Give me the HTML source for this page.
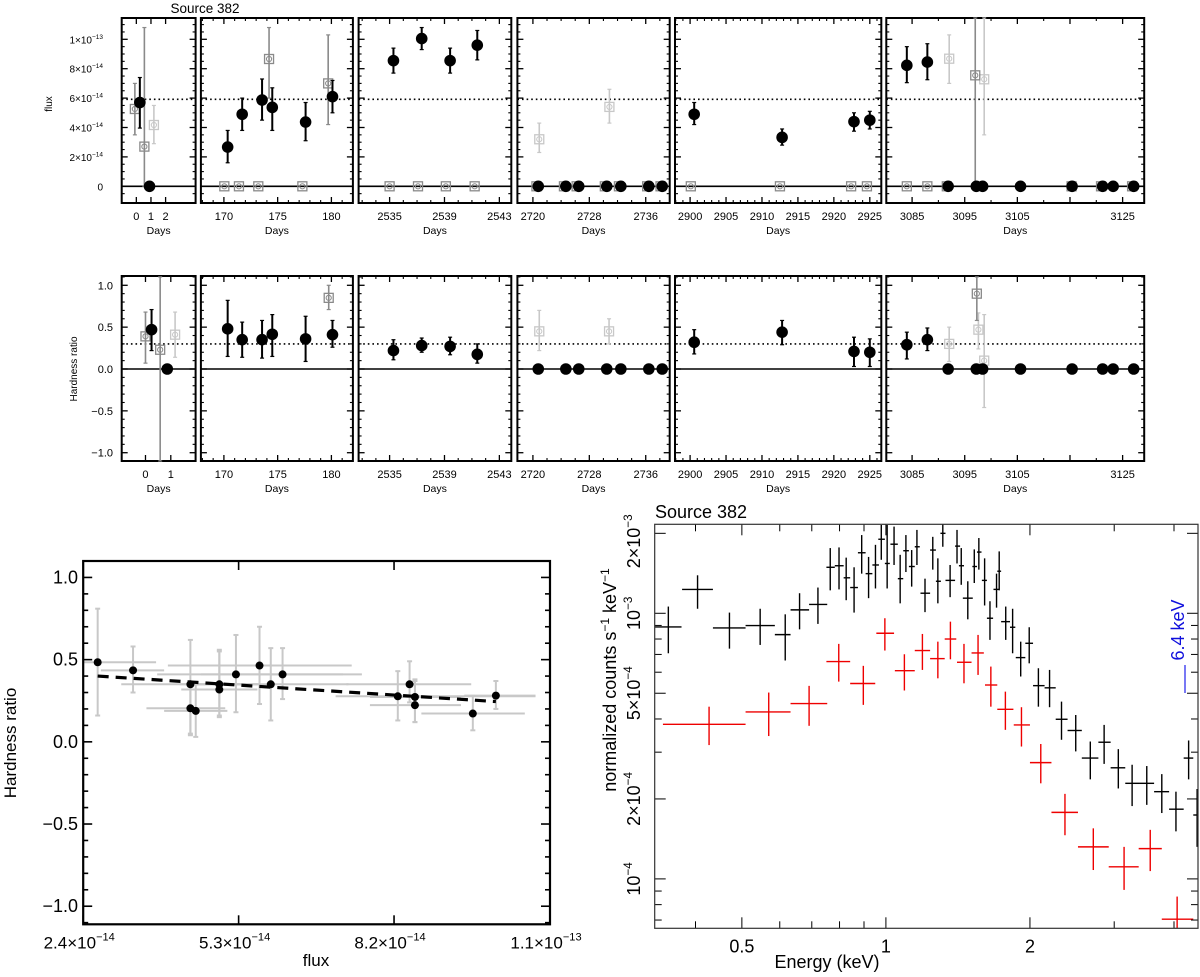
<!DOCTYPE html>
<html><head><meta charset="utf-8"><style>
html,body{margin:0;padding:0;background:#fff;}
svg{display:block;font-family:"Liberation Sans",sans-serif;}
</style></head><body>
<svg id="chart" width="1200" height="977" viewBox="0 0 1200 977" xmlns="http://www.w3.org/2000/svg"></svg>
<script>
// ---------- DATA: light curve (flux in 1e-14 units) ----------
const fluxBlackDays=[0.24,0.9,170.35,171.7,173.55,174.5,177.6,180.1,2535.28,2537.34,2539.41,2541.39,2720.76,2724.67,2726.5,2730.47,2732.47,2736.44,2738.34,2900.57,2912.8,2922.8,2925,3084,3087.9,3091.85,3097.2,3098.4,3105.6,3115.4,3121.2,3123.2,3127.1];
const fluxBlackVals=[5.7,0,2.67,4.9,5.87,5.37,4.37,6.1,8.55,10.05,8.55,9.6,0,0,0,0,0,0,0,4.9,3.33,4.4,4.5,8.23,8.45,0,0,0,0,0,0,0,0];
const fluxBlackLo=[3.96,0,1.6,3.8,4.5,3.8,3.1,5.0,7.7,9.3,7.7,8.6,0,0,0,0,0,0,0,4.2,2.8,3.75,3.9,7.05,7.25,0,0,0,0,0,0,0,0];
const fluxBlackHi=[7.4,0,3.8,6.0,7.3,6.7,5.7,7.2,9.4,10.8,9.4,10.6,0,0,0,0,0,0,0,5.7,3.9,5.0,5.1,9.5,9.7,0,0,0,0,0,0,0,0];
const fluxGrayDays=[-0.1,0.55,174.2,179.7,170.04,171.4,173.2,177.3,2535.0,2537.07,2539.1,2541.2,2720.5,2724.4,2726.2,2730.2,2732.2,2736.2,2738.1,2900.1,2912.5,2922.4,2924.6,3084,3087.9,3091.6,3097.0,3115.3,3120.9,3126.8];
const fluxGrayVals=[5.26,2.7,8.66,7.0,0,0,0,0,0,0,0,0,0,0,0,0,0,0,0,0,0,0,0,0,0,0,7.55,0,0,0];
const fluxGrayLo=[3.5,0,6.0,4.2,0,0,0,0,0,0,0,0,0,0,0,0,0,0,0,0,0,0,0,0,0,0,0,0,0,0];
const fluxGrayHi=[7.0,10.8,10.8,10.3,0,0,0,0,0,0,0,0,0,0,0,0,0,0,0,0,0,0,0,0,0,0,11.5,0,0,0];
const fluxLightDays=[1.2,2720.9,2730.85,3092.05,3098.7];
const fluxLightVals=[4.17,3.2,5.4,8.68,7.28];
const fluxLightLo=[2.9,2.3,4.3,7.0,3.5];
const fluxLightHi=[5.5,4.3,6.6,10.3,11.5];
const fluxMean=5.92;
// ---------- DATA: hardness ratio vs time ----------
const hrBlackDays=fluxBlackDays.slice(0,1).concat([0.86],fluxBlackDays.slice(2));
const hrBlackVals=[0.47,0,0.48,0.35,0.35,0.415,0.36,0.41,0.22,0.28,0.27,0.175,0,0,0,0,0,0,0,0.32,0.44,0.21,0.2,0.29,0.35,0,0,0,0,0,0,0,0];
const hrBlackLo=[0.22,0,0.15,0.14,0.13,0.15,0.09,0.26,0.11,0.2,0.17,0.07,0,0,0,0,0,0,0,0.18,0.29,0.03,0.03,0.12,0.22,0,0,0,0,0,0,0,0];
const hrBlackHi=[0.71,0,0.82,0.56,0.58,0.65,0.63,0.58,0.35,0.37,0.38,0.3,0,0,0,0,0,0,0,0.47,0.58,0.38,0.36,0.44,0.49,0,0,0,0,0,0,0,0];
const hrGrayDays=[0.0,0.58,179.75,3097.3];
const hrGrayVals=[0.39,0.23,0.85,0.9];
const hrGrayLo=[0.07,-1.1,0.71,0.58];
const hrGrayHi=[0.68,1.1,1.0,1.1];
const hrLightDays=[1.17,2720.9,2730.8,3092.05,3097.6,3098.7];
const hrLightVals=[0.41,0.45,0.45,0.3,0.47,0.1];
const hrLightLo=[0.14,0.22,0.3,0.09,0.24,-0.46];
const hrLightHi=[0.68,0.7,0.6,0.5,0.67,0.65];
const hrMean=0.3;
// ---------- DATA: hardness vs flux ----------
const hfFlux=[2.67,3.33,4.40,4.40,4.50,4.94,4.94,5.25,5.69,5.90,6.12,8.27,8.49,8.59,8.59,9.67,10.1];
const hfHR=[0.484,0.435,0.35,0.204,0.188,0.35,0.318,0.41,0.464,0.35,0.41,0.277,0.35,0.273,0.223,0.172,0.281];
const hfFluxLo=[2.4,2.73,3.11,3.58,3.91,4.2,4.23,3.78,3.98,4.38,4.6,7.11,7.31,7.75,7.75,8.71,9.51];
const hfFluxHi=[3.76,3.91,5.65,5.05,5.09,5.7,5.65,7.25,7.41,7.35,7.6,10.84,9.64,9.45,9.45,10.64,10.84];
const hfHRLo=[0.16,0.30,0.04,0.05,0.03,0.15,0.16,0.18,0.23,0.13,0.26,0.13,0.24,0.12,0.12,0.07,0.20];
const hfHRHi=[0.81,0.58,0.62,0.36,0.35,0.56,0.55,0.65,0.70,0.57,0.57,0.43,0.49,0.38,0.37,0.28,0.37];
const fitFlux=[2.67,10.1];
const fitHR=[0.40,0.245];
// ---------- DATA: spectrum (keV, counts in 1e-4) ----------
const bkE=[0.351,0.404,0.471,0.546,0.616,0.660,0.721,0.765,0.798,0.826,0.858,0.890,0.920,0.951,0.978,1.006,1.040,1.071,1.101,1.132,1.161,1.207,1.253,1.284,1.315,1.362,1.408,1.437,1.483,1.530,1.564,1.608,1.650,1.703,1.725,1.780,1.840,1.913,1.993,2.083,2.198,2.328,2.493,2.674,2.858,3.060,3.270,3.509,3.772,4.038,4.292,4.471];
const bkElo=[0.329,0.375,0.435,0.509,0.586,0.632,0.691,0.751,0.782,0.816,0.842,0.874,0.907,0.937,0.964,0.995,1.022,1.059,1.087,1.117,1.149,1.181,1.237,1.272,1.300,1.332,1.395,1.421,1.448,1.516,1.550,1.587,1.626,1.678,1.709,1.741,1.817,1.868,1.956,2.030,2.146,2.264,2.397,2.567,2.780,2.949,3.164,3.388,3.635,3.907,4.191,4.389];
const bkEhi=[0.374,0.435,0.509,0.586,0.632,0.691,0.754,0.782,0.816,0.842,0.874,0.907,0.937,0.967,0.995,1.019,1.059,1.087,1.117,1.149,1.177,1.237,1.272,1.303,1.332,1.395,1.429,1.456,1.519,1.550,1.584,1.626,1.675,1.725,1.741,1.817,1.864,1.956,2.030,2.146,2.264,2.397,2.567,2.780,2.949,3.164,3.388,3.635,3.907,4.191,4.389,4.579];
const bkV=[8.88,12.3,8.81,8.99,8.31,10.3,10.8,14.9,15.1,13.6,12.5,16.9,14.1,15.2,19.0,15.4,18.2,13.5,17.2,15.0,17.8,11.9,17.3,13.2,20.0,13.3,17.9,15.1,11.4,15.0,17.0,13.3,9.58,12.3,14.4,9.30,8.86,6.81,7.71,5.34,5.24,3.99,3.62,2.85,3.27,2.62,2.29,2.29,2.13,1.83,2.85,1.74];
const bkVhi=[10.6,13.9,10.06,10.4,9.91,11.9,12.5,17.6,17.7,16.2,14.9,19.7,16.3,18.1,21.5,21.5,21.2,16.6,19.7,17.3,20.6,13.5,19.4,16.1,21.6,15.2,20.6,17.6,13.2,17.4,19.2,16.1,11.1,14.1,17.1,10.6,10.4,7.82,8.86,6.21,6.12,4.65,4.14,3.29,3.80,3.08,2.69,2.66,2.48,2.13,3.32,2.18];
const bkVlo=[7.07,10.4,7.36,7.60,6.64,8.70,9.12,12.2,12.3,11.2,10.06,14.1,11.4,12.4,15.9,12.4,15.2,10.9,14.3,12.6,15.2,10.1,14.6,10.9,17.8,11.5,15.4,12.8,9.49,13.0,14.6,10.7,7.94,10.5,12.2,7.94,7.07,5.78,6.48,4.45,4.43,3.34,3.02,2.37,2.71,2.19,1.88,1.90,1.77,1.51,2.37,1.32];
const rdE=[0.427,0.569,0.691,0.797,0.897,0.995,1.093,1.192,1.284,1.364,1.456,1.558,1.657,1.777,1.920,2.107,2.367,2.713,3.146,3.568,4.061];
const rdElo=[0.342,0.509,0.632,0.751,0.842,0.955,1.044,1.149,1.237,1.327,1.408,1.510,1.611,1.709,1.850,2.000,2.218,2.520,2.922,3.375,3.772];
const rdEhi=[0.509,0.632,0.754,0.842,0.950,1.040,1.149,1.237,1.327,1.403,1.510,1.602,1.709,1.847,2.000,2.218,2.520,2.922,3.375,3.772,4.389];
const rdV=[3.82,4.25,4.57,6.58,5.44,8.41,6.08,7.24,6.75,8.00,6.54,7.09,5.37,4.35,3.80,2.74,1.78,1.32,1.11,1.30,0.705];
const rdVhi=[4.45,5.03,5.33,7.67,6.34,9.58,7.01,8.36,7.82,9.30,7.67,8.29,6.30,5.07,4.43,3.22,2.09,1.55,1.32,1.53,0.858];
const rdVlo=[3.19,3.45,3.77,5.53,4.52,7.24,5.12,6.12,5.69,6.71,5.45,5.86,4.45,3.64,3.15,2.29,1.46,1.08,0.909,1.07,0.652];

const NS='http://www.w3.org/2000/svg';
const svg=document.getElementById('chart');
function mk(tag,attrs,name,parent){
  const el=document.createElementNS(NS,tag);
  for(const k in attrs) el.setAttribute(k,attrs[k]);
  
  
  (parent||svg).appendChild(el);
  return el;
}
function line(x1,y1,x2,y2,st,w,name,extra){const a={x1,y1,x2,y2,stroke:st,'stroke-width':w};Object.assign(a,extra||{});return mk('line',a,name);}
function sup(x,y,mant,exp,fs,anchor,name,rot){
  const t=mk('text',{x,y,'font-size':fs,'text-anchor':anchor||'middle',fill:'#000'},name);
  if(rot) t.setAttribute('transform',rot);
  const a=document.createElementNS(NS,'tspan');a.textContent=mant;t.appendChild(a);
  if(exp){const b=document.createElementNS(NS,'tspan');b.setAttribute('dy',-fs*0.45);b.setAttribute('font-size',fs*0.65);b.textContent=exp;t.appendChild(b);}
  return t;
}
function txt(x,y,s,fs,anchor,name,extra){const t=mk('text',Object.assign({x,y,'font-size':fs,'text-anchor':anchor||'middle',fill:'#000'},extra||{}),name);t.textContent=s;return t;}

// ---------- light curve panels ----------
const panels=[
 {x0:121.7,x1:195.6,d0:-1.0,d1:4.05,maj:[0,1,2],min:[],hd0:-0.94,hd1:1.98,hmaj:[0,1]},
 {x0:200.9,x1:352.9,d0:167.86,d1:182.0,maj:[170,175,180],min:[168,169,171,172,173,174,176,177,178,179,181]},
 {x0:358.6,x1:511.3,d0:2532.74,d1:2543.87,maj:[2535,2539,2543],min:[2533,2534,2536,2537,2538,2540,2541,2542]},
 {x0:517.4,x1:669.7,d0:2717.8,d1:2739.4,maj:[2720,2728,2736],min:[2722,2724,2726,2730,2732,2734,2738]},
 {x0:675,x1:881.3,d0:2897.9,d1:2926.6,maj:[2900,2905,2910,2915,2920,2925],min:[2898,2899,2901,2902,2903,2904,2906,2907,2908,2909,2911,2912,2913,2914,2916,2917,2918,2919,2921,2922,2923,2924,2926]},
 {x0:886.3,x1:1144.2,d0:3080.1,d1:3129.1,maj:[3085,3095,3105,3115,3125],min:[3090,3100,3110,3120],skip:[3115]}
];
function panelIndex(d){for(let i=0;i<panels.length;i++){const p=panels[i];if(d>=p.d0&&d<=p.d1)return i;}return -1;}
function rowDraw(cfg){
  const {top,bot,v0,v1,yMaj,yMin,hr}=cfg;
  const ys=v=>bot-(v-v0)/(v1-v0)*(bot-top);
  panels.forEach((p,i)=>{
    const d0=hr&&p.hd0!==undefined?p.hd0:p.d0, d1=hr&&p.hd1!==undefined?p.hd1:p.d1;
    const maj=hr&&p.hmaj?p.hmaj:p.maj;
    const xs=d=>p.x0+(d-d0)/(d1-d0)*(p.x1-p.x0);
    p['xs'+(hr?'h':'f')]=xs;
    line(p.x0,ys(0),p.x1,ys(0),'#000',1.6,hr?'hr-zero-line':'flux-zero-line');
    line(p.x0,ys(cfg.mean),p.x1,ys(cfg.mean),'#000',1.6,hr?'hr-mean-line':'flux-mean-line',{'stroke-dasharray':'1.6,3'});
    yMaj.forEach(v=>{line(p.x0,ys(v),p.x0+6,ys(v),'#000',1.3,'y-tick');line(p.x1-6,ys(v),p.x1,ys(v),'#000',1.3,'y-tick');});
    yMin.forEach(v=>{line(p.x0,ys(v),p.x0+3,ys(v),'#000',1.1,'y-minor-tick');line(p.x1-3,ys(v),p.x1,ys(v),'#000',1.1,'y-minor-tick');});
    maj.forEach(d=>{line(xs(d),bot,xs(d),bot-6,'#000',1.3,'x-tick');line(xs(d),top,xs(d),top+6,'#000',1.3,'x-tick');
      if(!(p.skip&&p.skip.includes(d)))txt(xs(d),bot+17,String(d),11,'middle','x-tick-label');});
    p.min.forEach(d=>{line(xs(d),bot,xs(d),bot-3,'#000',1.1,'x-minor-tick');line(xs(d),top,xs(d),top+3,'#000',1.1,'x-minor-tick');});
    txt((p.x0+p.x1)/2,bot+31,'Days',10.5,'middle','x-axis-title');
    mk('rect',{x:p.x0,y:top,width:p.x1-p.x0,height:bot-top,fill:'none',stroke:'#000','stroke-width':2},(hr?'hr':'flux')+'-panel-frame-'+(i+1));
  });
  function drawSet(days,vals,lo,hi,kind){
    days.forEach((d,k)=>{
      const pi=panelIndex(d<0&&hr?Math.max(d,-0.9):d); if(pi<0)return;
      const p=panels[pi], xs=p['xs'+(hr?'h':'f')];
      const x=xs(d), y=ys(vals[k]);
      const clamp=v=>Math.max(top,Math.min(bot,ys(v)));
      const col=kind==='black'?'#000':kind==='gray'?'#8a8a8a':'#c8c8c8';
      if(hi[k]!==lo[k]){
        line(x,clamp(lo[k]),x,clamp(hi[k]),col,kind==='black'?2:1.6,kind+'-error-bar');
        line(x-2,clamp(lo[k]),x+2,clamp(lo[k]),col,1.2,kind+'-error-cap');
        line(x-2,clamp(hi[k]),x+2,clamp(hi[k]),col,1.2,kind+'-error-cap');
      }
      if(kind==='black') mk('circle',{cx:x,cy:y,r:5.8,fill:'#000'},hr?'hr-point':'flux-point');
      else {mk('rect',{x:x-4.5,y:y-4.5,width:9,height:9,fill:'none',stroke:col,'stroke-width':1.3},hr?'hr-upper-marker':'flux-upper-marker');
            mk('circle',{cx:x,cy:y,r:2.6,fill:'none',stroke:col,'stroke-width':1},'marker-inner-circle');}
    });
  }
  drawSet(cfg.lDays,cfg.lVals,cfg.lLo,cfg.lHi,'light');
  drawSet(cfg.gDays,cfg.gVals,cfg.gLo,cfg.gHi,'gray');
  drawSet(cfg.bDays,cfg.bVals,cfg.bLo,cfg.bHi,'black');
  return ys;
}
const fluxTickVals=[0,2,4,6,8,10];
const fluxTickMant=['0','2×10','4×10','6×10','8×10','1×10'];
const fluxTickExp=['','−14','−14','−14','−14','−13'];
const fys=rowDraw({top:18,bot:203,v0:(186.3-203)/14.7,v1:(186.3-18)/14.7,yMaj:fluxTickVals,yMin:[-0.5,0.5,1,1.5,2.5,3,3.5,4.5,5,5.5,6.5,7,7.5,8.5,9,9.5,10.5,11],mean:fluxMean,hr:false,
  bDays:fluxBlackDays,bVals:fluxBlackVals,bLo:fluxBlackLo,bHi:fluxBlackHi,gDays:fluxGrayDays,gVals:fluxGrayVals,gLo:fluxGrayLo,gHi:fluxGrayHi,lDays:fluxLightDays,lVals:fluxLightVals,lLo:fluxLightLo,lHi:fluxLightHi});
fluxTickVals.forEach((v,i)=>sup(fluxTickExp[i]?103:103,fys(v)+4,fluxTickMant[i],fluxTickExp[i],10,'end','flux-tick-label'));
txt(52,104,'flux',10,'middle','flux-axis-title',{transform:'rotate(-90 52 104)'});
txt(205,13,'Source 382',13.5,'middle','lightcurve-title');

const hrTickVals=[1,0.5,0,-0.5,-1];
const hrTickLabels=['1.0','0.5','0.0','−0.5','−1.0'];
const hys=rowDraw({top:276,bot:461,v0:-1.099,v1:1.111,yMaj:hrTickVals,yMin:[-0.9,-0.8,-0.7,-0.6,-0.4,-0.3,-0.2,-0.1,0.1,0.2,0.3,0.4,0.6,0.7,0.8,0.9,1.1],mean:hrMean,hr:true,
  bDays:hrBlackDays,bVals:hrBlackVals,bLo:hrBlackLo,bHi:hrBlackHi,gDays:hrGrayDays,gVals:hrGrayVals,gLo:hrGrayLo,gHi:hrGrayHi,lDays:hrLightDays,lVals:hrLightVals,lLo:hrLightLo,lHi:hrLightHi});
hrTickVals.forEach((v,i)=>txt(113,hys(v)+4,hrTickLabels[i],11,'end','hr-tick-label'));
txt(77,369,'Hardness ratio',10,'middle','hr-axis-title',{transform:'rotate(-90 77 369)'});

// ---------- hardness vs flux ----------
(function(){
  const L=83.2,R=550,T=561,B=924.3, f0=2.4,f1=11.11, h0=-1.11,h1=1.1;
  const xs=f=>L+(f-f0)/(f1-f0)*(R-L), ys=h=>B-(h-h0)/(h1-h0)*(B-T);
  hfFlux.forEach((f,k)=>{
    line(xs(Math.max(f0,hfFluxLo[k])),ys(hfHR[k]),xs(hfFluxHi[k]),ys(hfHR[k]),'#c8c8c8',2,'hf-flux-error');
    line(xs(f),ys(hfHRLo[k]),xs(f),ys(hfHRHi[k]),'#c8c8c8',2,'hf-hr-error');
    line(xs(f)-2.5,ys(hfHRLo[k]),xs(f)+2.5,ys(hfHRLo[k]),'#c8c8c8',2,'hf-error-cap');
    line(xs(f)-2.5,ys(hfHRHi[k]),xs(f)+2.5,ys(hfHRHi[k]),'#c8c8c8',2,'hf-error-cap');
  });
  line(xs(fitFlux[0]),ys(fitHR[0]),xs(fitFlux[1]),ys(fitHR[1]),'#000',3.2,'linear-fit-line',{'stroke-dasharray':'11,7'});
  hfFlux.forEach((f,k)=>mk('circle',{cx:xs(f),cy:ys(hfHR[k]),r:4,fill:'#000'},'hf-point'));
  const yt=[1,0.5,0,-0.5,-1], ytl=['1.0','0.5','0.0','−0.5','−1.0'];
  for(let v=-1.1;v<=1.1001;v+=0.1){const vv=Math.round(v*10)/10;const maj=Math.abs(vv*2-Math.round(vv*2))<1e-6;
    line(L,ys(vv),L+(maj?9:5),ys(vv),'#000',1.6,'hf-y-tick');line(R-(maj?9:5),ys(vv),R,ys(vv),'#000',1.6,'hf-y-tick');}
  yt.forEach((v,i)=>txt(78,ys(v)+6,ytl[i],18,'end','hf-y-tick-label'));
  const xt=[2.4,5.3,8.2,11.0], xtm=['2.4×10','5.3×10','8.2×10','1.1×10'], xte=['−14','−14','−14','−13'];
  xt.forEach((v,i)=>{const x=i===3?R:xs(v);line(x,B,x,B-9,'#000',1.6,'hf-x-tick');line(x,T,x,T+9,'#000',1.6,'hf-x-tick');
    sup(x-4,B+24,xtm[i],xte[i],17,'middle','hf-x-tick-label');});
  mk('rect',{x:L,y:T,width:R-L,height:B-T,fill:'none',stroke:'#000','stroke-width':2.2},'hf-plot-frame');
  txt(316,966,'flux',17,'middle','hf-x-axis-title');
  txt(16,743,'Hardness ratio',17,'middle','hf-y-axis-title',{transform:'rotate(-90 16 743)'});
})();

// ---------- spectrum ----------
(function(){
  const L=654.7,R=1198,T=524.3,B=928.3;
  const lx0=Math.log10(0.3287), lx1=Math.log10(4.49), ly0=-4.186, ly1=-3+0.335;
  const xs=e=>L+(Math.log10(e)-lx0)/(lx1-lx0)*(R-L);
  const ys=v=>B-(Math.log10(v*1e-4)-ly0)/(ly1-ly0)*(B-T);
  const cl=y=>Math.max(T,Math.min(B,y));
  const cx=x=>Math.max(L,Math.min(R,x));
  function cross(E,Elo,Ehi,V,Vlo,Vhi,col,name){
    E.forEach((e,k)=>{
      line(cx(xs(Elo[k])),ys(V[k]),cx(xs(Ehi[k])),ys(V[k]),col,1.4,name+'-energy-bin');
      line(xs(e),cl(ys(Vlo[k])),xs(e),cl(ys(Vhi[k])),col,1.4,name+'-count-error');
    });
  }
  cross(bkE,bkElo,bkEhi,bkV,bkVlo,bkVhi,'#000','spectrum-black');
  cross(rdE,rdElo,rdEhi,rdV,rdVlo,rdVhi,'#ee0000','spectrum-red');
  [0.4,0.5,0.6,0.7,0.8,0.9,1,2,3,4].forEach(e=>{const maj=[0.5,1,2].includes(e);const l=maj?11:7;
    line(xs(e),B,xs(e),B-l,'#000',1,'spec-x-tick');line(xs(e),T,xs(e),T+l,'#000',1,'spec-x-tick');});
  [['0.5',0.5],['1',1],['2',2]].forEach(a=>txt(xs(a[1]),B+24,a[0],18,'middle','spec-x-tick-label'));
  const yv=[0.7,0.8,0.9,1,2,3,4,5,6,7,8,9,10,20];
  yv.forEach(v=>{const maj=[1,2,5,10,20].includes(v);const l=maj?11:7;
    line(L,ys(v),L+l,ys(v),'#000',1,'spec-y-tick');line(R-l,ys(v),R,ys(v),'#000',1,'spec-y-tick');});
  const ylab=[[1,'10','−4'],[2,'2×10','−4'],[5,'5×10','−4'],[10,'10','−3'],[20,'2×10','−3']];
  ylab.forEach(a=>{let y=ys(a[0]);if(a[0]===20)y+=8;sup(640,y,a[1],a[2],18,'middle','spec-y-tick-label','rotate(-90 640 '+y+')');});
  mk('rect',{x:L,y:T,width:R-L,height:B-T,fill:'none',stroke:'#333','stroke-width':1.2},'spectrum-frame');
  txt(655,518,'Source 382',18,'start','spectrum-title');
  txt(827,968,'Energy (keV)',18,'middle','spec-x-axis-title');
  const yl=mk('text',{x:616,y:680,'font-size':18,'text-anchor':'middle',fill:'#000',transform:'rotate(-90 616 680)'},'spec-y-axis-title');
  yl.innerHTML='normalized counts s<tspan dy="-7" font-size="12">−1</tspan><tspan dy="7"> keV</tspan><tspan dy="-7" font-size="12">−1</tspan>';
  txt(1184,630,'6.4 keV',18,'middle','line-label-6.4kev',{fill:'#1010dd',transform:'rotate(-90 1184 630)'});
  line(1185,665,1185,693,'#3030ee',1.3,'line-marker-6.4kev');
})();
</script>
</body></html>
